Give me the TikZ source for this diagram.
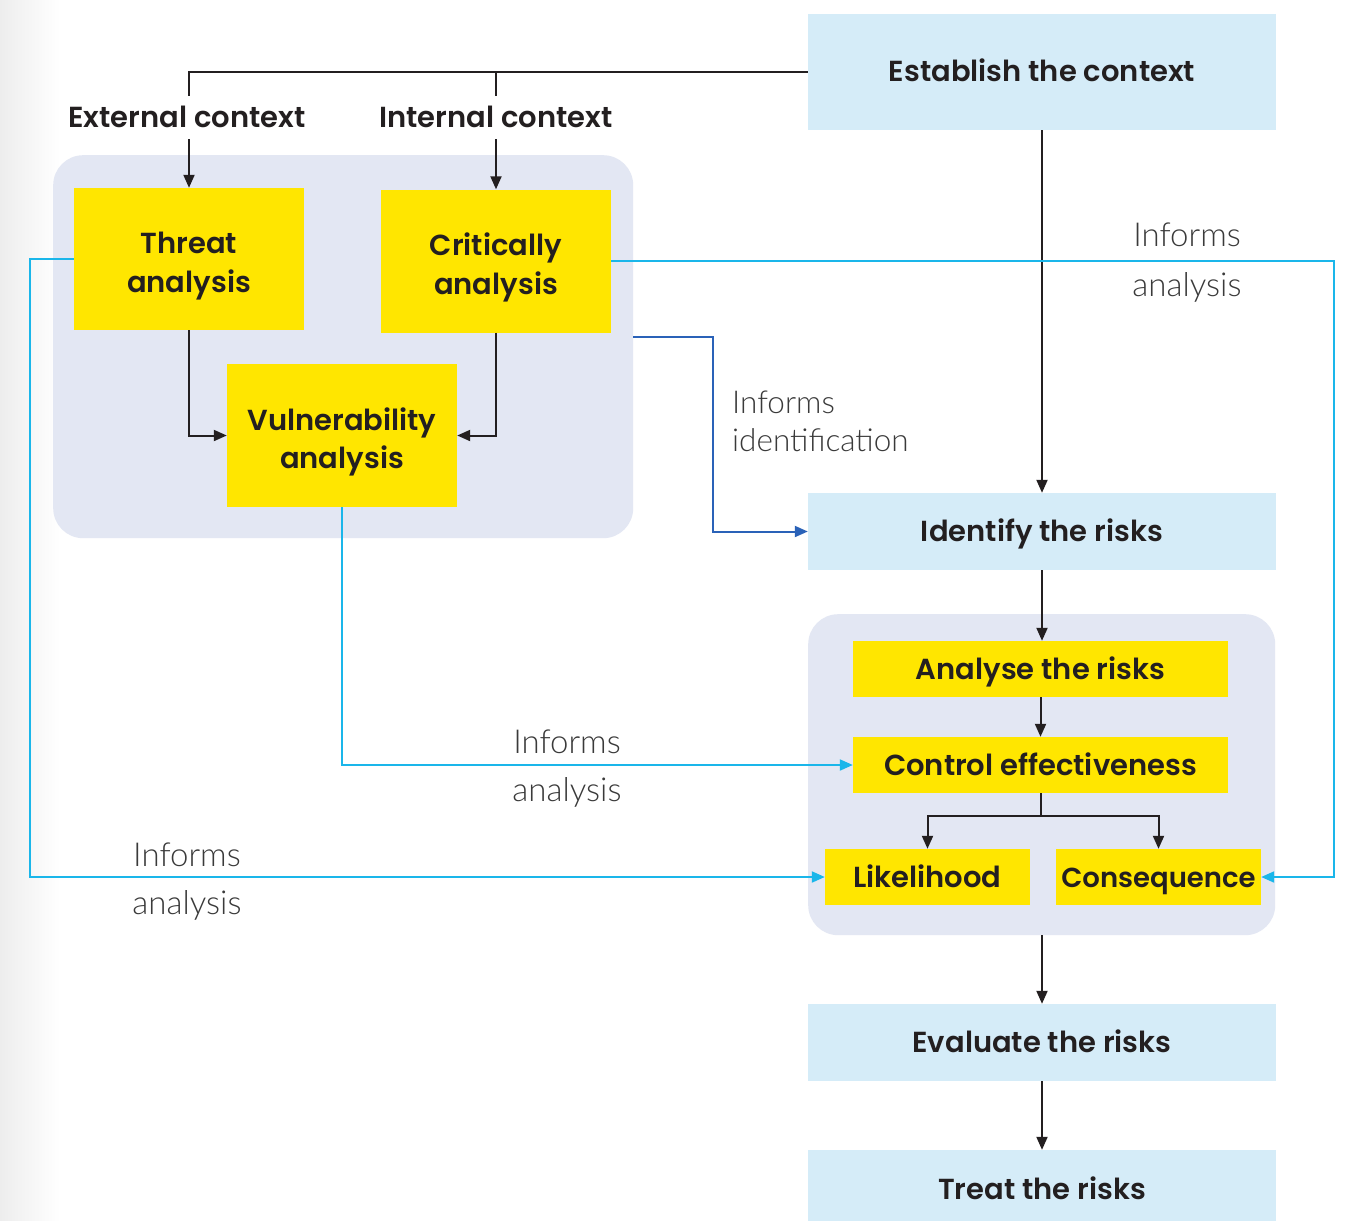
\documentclass[tikz,border=0pt]{standalone}
\usepackage{fontspec}
\setmainfont{Poppins}
\newfontfamily\boldfont{Poppins SemiBold}
\newfontfamily\lightfont{Lato Light}
\usetikzlibrary{arrows.meta,calc}
\definecolor{ink}{HTML}{231F20}
\definecolor{ctxblue}{HTML}{D5ECF8}
\definecolor{ybox}{HTML}{FFE600}
\definecolor{grpbg}{HTML}{E3E7F3}
\definecolor{cyanln}{HTML}{1AB6EA}
\definecolor{dkblue}{HTML}{2A62B8}
\definecolor{lbl}{HTML}{3A3A3A}
\tikzset{
  bfont/.style={font=\boldfont\fontsize{29}{38.5}\selectfont, text=ink, text height=25pt, text depth=5pt},
  ctxbox/.style={bfont, fill=ctxblue, minimum width=468pt, inner sep=0pt, anchor=center},
  ybx/.style={bfont, fill=ybox, inner sep=0pt, align=center, anchor=center},
  ybxm/.style={ybx, text height=68pt, text depth=2pt},
  grp/.style={fill=grpbg, rounded corners=30pt, inner sep=0pt, anchor=north west},
  ln/.style={draw=ink, line width=2pt},
  arr/.style={-{Triangle[length=13pt,width=11pt]}},
  cy/.style={draw=cyanln, line width=2pt},
  lt/.style={font=\lightfont\fontsize{33}{38}\selectfont, text=lbl, inner sep=0pt},
  ctxlbl/.style={bfont, fill=white, inner xsep=2pt, inner ysep=6.5pt}
}
\begin{document}
\begin{tikzpicture}[x=1pt,y=-1pt]
\clip (0,0) rectangle (1348,1220);
\fill[white] (0,0) rectangle (1348,1220);
\shade[left color=black!7, right color=white] (0,0) rectangle (60,1220);

% groups
\node[grp, minimum width=580pt, minimum height=383pt] (lgrp) at (53,155) {};
\node[grp, minimum width=467pt, minimum height=321pt] (rgrp) at (808,614) {};

% context boxes
\node[ctxbox, minimum height=116pt] (est) at (1042,72) {Establish the context};
\node[ctxbox, minimum height=77pt] (ident) at (1042,531.5) {Identify the risks};
\node[ctxbox, minimum height=77pt] (eval) at (1042,1042.5) {Evaluate the risks};
\node[ctxbox, minimum height=78pt] (treat) at (1042,1189) {Treat the risks};

% yellow boxes
\node[ybxm, minimum width=230pt, minimum height=142pt] (threat) at (189,259) {Threat\\analysis};
\node[ybxm, minimum width=230pt, minimum height=143pt] (crit) at (496,261) {Critically\\analysis};
\node[ybxm, minimum width=230pt, minimum height=143pt] (vuln) at (342,435.5) {Vulnerability\\analysis};
\node[ybx, minimum width=375pt, minimum height=56pt] (analyse) at (1040.5,669) {Analyse the risks};
\node[ybx, minimum width=375pt, minimum height=56pt] (control) at (1040.5,765) {Control effectiveness};
\node[ybx, minimum width=205pt, minimum height=56pt] (like) at (927.5,877) {Likelihood};
\node[ybx, minimum width=205pt, minimum height=56pt, font=\boldfont\fontsize{27.5}{38}\selectfont] (cons) at (1158.5,877) {Consequence};

% top context connectors
\coordinate (jn) at (crit.north |- est.west);
\draw[ln,arr] (est.west) -| (threat.north);
\draw[ln,arr] (jn) -- (crit.north);
\node[ctxlbl] (extl) at (187,117.5) {External context};
\node[ctxlbl] (intl) at (496,117.5) {Internal context};

% main flow
\draw[ln,arr] (est.south) -- (ident.north);
\draw[ln,arr] (ident.south) -- (ident.south |- analyse.north);
\draw[ln,arr] (analyse.south) -- (control.north);
\coordinate (split) at ($(control.south)+(0,23)$);
\draw[ln] (control.south) -- (split);
\draw[ln,arr] (split) -| (like.north);
\draw[ln,arr] (split) -| (cons.north);
\draw[ln,arr] (rgrp.south -| ident.south) -- (eval.north);
\draw[ln,arr] (eval.south) -- (treat.north);

% left group connectors
\draw[ln,arr] (threat.south) |- (vuln.west);
\draw[ln,arr] (crit.south) |- (vuln.east);

% informs identification
\coordinate (ib) at (633,337);
\draw[draw=dkblue, line width=2pt, arr] (ib) -- (713,337) |- (ident.west);
\node[lt, anchor=west, align=left, font=\lightfont\fontsize{31.5}{38}\selectfont] (iid) at (732,421) {Informs\\identification};

% cyan connectors
\draw[cy,arr] (threat.west) -- (30,259) |- (like.west);
\draw[cy,arr] (crit.east) -- (1334,261) |- (cons.east);
\draw[cy,arr] (vuln.south) |- (control.west);

\node[lt] (ia1) at (1187,235) {Informs};
\node[lt] (ia2) at (1187,287) {analysis};
\node[lt] (ib1) at (567,742) {Informs};
\node[lt] (ib2) at (567,792) {analysis};
\node[lt] (ic1) at (187,855) {Informs};
\node[lt] (ic2) at (187,905) {analysis};
\end{tikzpicture}
\end{document}
